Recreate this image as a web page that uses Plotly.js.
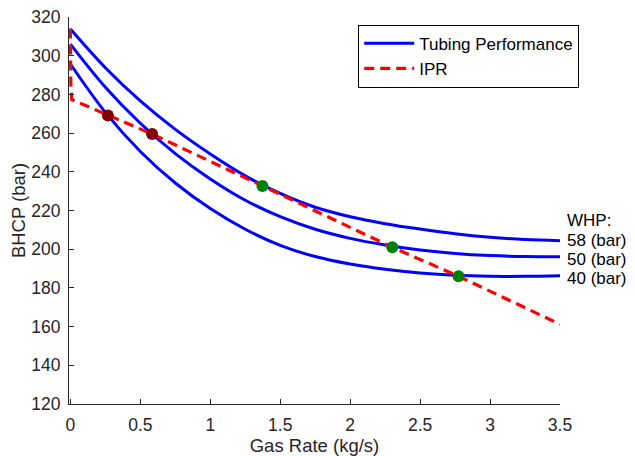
<!DOCTYPE html>
<html>
<head>
<meta charset="utf-8">
<script src="https://cdn.plot.ly/plotly-3.0.1.min.js"></script>
<style>html,body{margin:0;padding:0;background:#fff;}#chart{width:635px;height:456px;}</style>
</head>
<body>
<div id="chart"></div>
<script>
// Gas rate grid for the tubing performance curves (kg/s)
const gasRate = [0, 0.25, 0.5, 0.75, 1.0, 1.25, 1.5, 1.75, 2.0, 2.25, 2.5, 2.75, 3.0, 3.25, 3.5];
// Tubing performance curves, BHCP (bar), for each wellhead pressure
const tpr58 = [313.8, 293.8, 276.6, 261.9, 249.2, 237.9, 228.8, 221.7, 216.8, 213.2, 210.4, 208.0, 206.2, 205.0, 204.4];
const tpr50 = [306.0, 283.7, 265.1, 249.4, 236.3, 225.3, 216.8, 210.3, 205.6, 202.2, 199.6, 197.8, 196.7, 196.2, 196.1];
const tpr40 = [295.7, 270.7, 250.5, 234.2, 221.0, 210.3, 202.0, 196.2, 192.3, 189.6, 187.7, 186.5, 186.0, 186.0, 186.3];
const whpLabels = ['58 (bar)', '50 (bar)', '40 (bar)'];
// IPR curve
const iprRate = [0, 0.003, 0.01, 0.268, 0.584, 1.373, 2.301, 2.775, 3.5];
const iprBhcp = [314.0, 285.0, 277.3, 269.1, 259.5, 232.7, 201.0, 186.0, 161.2];
// Intersections
const unstableRate = [0.268, 0.584];
const unstableBhcp = [269.1, 259.5];
const stableRate = [1.373, 2.301, 2.775];
const stableBhcp = [232.7, 201.0, 186.0];
// Ticks
const xTicks = [0, 0.5, 1, 1.5, 2, 2.5, 3, 3.5];
const xTickText = ['0', '0.5', '1', '1.5', '2', '2.5', '3', '3.5'];
const yTicks = [120, 140, 160, 180, 200, 220, 240, 260, 280, 300, 320];
const yTickText = ['120', '140', '160', '180', '200', '220', '240', '260', '280', '300', '320'];

const FONT = 'Liberation Sans, Arial, Helvetica, sans-serif';
const INK = '#262626';
const blue = '#0000ff';

const tprSets = [tpr58, tpr50, tpr40];
const traces = tprSets.map((ys, i) => ({
  x: gasRate, y: ys, type: 'scatter', mode: 'lines',
  line: {color: blue, width: 3, shape: 'spline', smoothing: 1},
  name: 'Tubing Performance', showlegend: i === 0, legendgroup: 'tpr', hoverinfo: 'skip'
}));
traces.push({
  x: iprRate, y: iprBhcp, type: 'scatter', mode: 'lines',
  line: {color: '#ff0000', width: 3.2, dash: '10px,6px'},
  name: 'IPR', showlegend: true
});
traces.push({
  x: unstableRate, y: unstableBhcp, type: 'scatter', mode: 'markers',
  marker: {color: '#800000', size: 12}, showlegend: false, cliponaxis: false
});
traces.push({
  x: stableRate, y: stableBhcp, type: 'scatter', mode: 'markers',
  marker: {color: '#008000', size: 12}, showlegend: false, cliponaxis: false
});

const lastIdx = gasRate.length - 1;
const labelShift = [0, -3, -3];
const annotations = tprSets.map((ys, i) => ({
  x: gasRate[lastIdx], y: ys[lastIdx], xref: 'x', yref: 'y',
  text: whpLabels[i], showarrow: false, xanchor: 'left', yanchor: 'middle',
  xshift: 6, yshift: labelShift[i], height: 17, borderpad: 0,
  font: {family: FONT, size: 17, color: '#000'}
}));
annotations.push({
  x: gasRate[lastIdx], y: tpr58[lastIdx], xref: 'x', yref: 'y',
  text: 'WHP:', showarrow: false, xanchor: 'left', yanchor: 'middle',
  xshift: 6, yshift: 20, height: 17, borderpad: 0,
  font: {family: FONT, size: 17, color: '#000'}
});

const layout = {
  width: 635, height: 456,
  margin: {l: 69, r: 75, t: 17, b: 52},
  paper_bgcolor: '#fff', plot_bgcolor: '#fff',
  font: {family: FONT, size: 17, color: INK},
  showlegend: true,
  legend: {
    x: 0.589, y: 0.98, xanchor: 'left', yanchor: 'top',
    bgcolor: '#fff', bordercolor: '#000', borderwidth: 1,
    font: {family: FONT, size: 17, color: '#000'},
    itemwidth: 50, tracegroupgap: 0
  },
  xaxis: {
    range: [-0.01, 3.5], tickmode: 'array', tickvals: xTicks, ticktext: xTickText,
    ticks: 'inside', ticklen: 5, tickwidth: 1, tickcolor: INK,
    showline: true, linecolor: INK, linewidth: 1, showgrid: false, zeroline: false,
    tickfont: {family: FONT, size: 17.5, color: INK}, ticklabelstandoff: 5,
    title: {text: 'Gas Rate (kg/s)', font: {family: FONT, size: 18.5, color: INK}, standoff: 8},
    automargin: false
  },
  yaxis: {
    range: [120, 320], tickmode: 'array', tickvals: yTicks, ticktext: yTickText,
    ticks: 'inside', ticklen: 5, tickwidth: 1, tickcolor: INK,
    showline: true, linecolor: INK, linewidth: 1, showgrid: false, zeroline: false,
    tickfont: {family: FONT, size: 17.5, color: INK}, ticklabelstandoff: 4,
    title: {text: 'BHCP (bar)', font: {family: FONT, size: 18.5, color: INK}, standoff: 0},
    automargin: false
  },
  annotations: annotations
};

Plotly.newPlot('chart', traces, layout, {displayModeBar: false, staticPlot: true});
</script>
</body>
</html>
